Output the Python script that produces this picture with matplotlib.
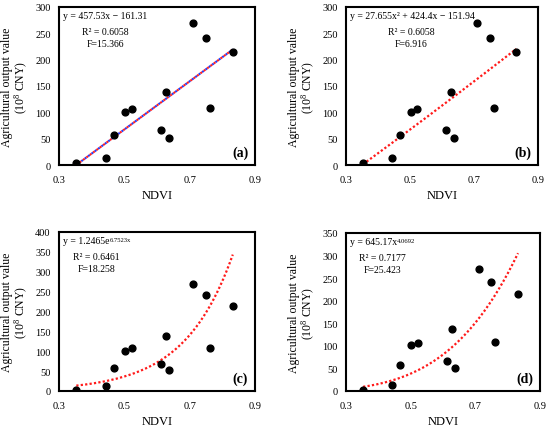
import numpy as np
import matplotlib
matplotlib.use("Agg")
import matplotlib.pyplot as plt

plt.rcParams['font.family'] = ['Liberation Serif', 'DejaVu Serif']
plt.rcParams['mathtext.fontset'] = 'custom'
plt.rcParams['mathtext.rm'] = 'Liberation Serif'
plt.rcParams['mathtext.it'] = 'Liberation Serif:italic'
plt.rcParams['mathtext.default'] = 'regular'

ndvi = [0.353, 0.443, 0.468, 0.502, 0.522, 0.612, 0.627, 0.638, 0.710, 0.749, 0.762, 0.832]
output = [3, 13, 57, 101, 107, 67, 138, 52, 270, 242, 109, 214]

panel_labels = ['(a)', '(b)', '(c)', '(d)']
equations = ['y = 457.53x − 161.31',
             'y = 27.655x² + 424.4x − 151.94',
             'y = 1.2465e',
             'y = 645.17x']
eq_sups = ['', '', '6.7523x', '4.0692']
r2_texts = ['R² = 0.6058', 'R² = 0.6058', 'R² = 0.6461', 'R² = 0.7177']
f_texts = ['F=15.366', 'F=6.916', 'F=18.258', 'F=25.423']
y_max = [300, 300, 400, 350]
x_ticks = [0.3, 0.5, 0.7, 0.9]
x_tick_labels = ['0.3', '0.5', '0.7', '0.9']

def f_lin(x): return 457.53 * x - 161.31
def f_quad(x): return 27.655 * x**2 + 424.4 * x - 151.94
def f_exp(x): return 1.2465 * np.exp(6.7523 * x)
def f_pow(x): return 645.17 * x**4.0692
funcs = [f_lin, f_quad, f_exp, f_pow]

W, H = 550, 427
fig = plt.figure(figsize=(5.5, 4.27), dpi=100)
boxes = [(59, 8, 255, 166), (346, 8, 538, 166), (59, 233, 255, 392), (346, 234, 540, 392)]
stat_x = [0.235, 0.34, 0.19, 0.19]

for i in range(4):
    l, t, r, b = boxes[i]
    ax = fig.add_axes([l / W, 1 - b / H, (r - l) / W, (b - t) / H])
    xs = np.linspace(min(ndvi), max(ndvi), 200)
    ys = funcs[i](xs)
    if i == 0:
        ax.plot(xs, ys, color='#1f3fff', lw=1.5, linestyle=(1, (1, 1)), zorder=2)
        ax.plot(xs, ys, color='#ff2020', lw=1.5, linestyle=(0, (1, 1)), zorder=2)
    else:
        ax.plot(xs, ys, color='#ff1a1a', lw=1.6, linestyle=(0, (1, 1)), zorder=2)
    ax.scatter(ndvi, output, s=24, color='black', zorder=3)
    ax.set_xlim(0.3, 0.9)
    ax.set_ylim(0, y_max[i])
    ax.set_xticks(x_ticks)
    ax.set_xticklabels(x_tick_labels)
    ax.set_yticks(np.arange(0, y_max[i] + 1, 50))
    ax.tick_params(axis='y', length=0, labelsize=7.5, pad=6)
    ax.tick_params(axis='x', length=0, labelsize=7.5, pad=7)
    for s in ax.spines.values():
        s.set_linewidth(1.5)
        s.set_color('black')
    ax.set_xlabel('NDVI', fontsize=9, labelpad=4)
    ax.set_ylabel('Agricultural output value\n(10$^{8}$ CNY)', fontsize=8.5, linespacing=1.0, labelpad=4)
    base = ax.text(0.02, 0.975, equations[i], transform=ax.transAxes, fontsize=7, va='top', ha='left')
    if eq_sups[i]:
        ax.annotate(eq_sups[i], xy=(1.0, 0.92), xycoords=base, fontsize=4.8, va='top', ha='left')
    ax.text(stat_x[i], 0.875, r2_texts[i], transform=ax.transAxes, fontsize=7, va='top', ha='center')
    ax.text(stat_x[i], 0.8, f_texts[i], transform=ax.transAxes, fontsize=7, va='top', ha='center')
    ax.text(0.965, 0.035, panel_labels[i], transform=ax.transAxes, fontsize=10, fontweight='bold', va='bottom', ha='right')

fig.savefig('out.png', dpi=100)
